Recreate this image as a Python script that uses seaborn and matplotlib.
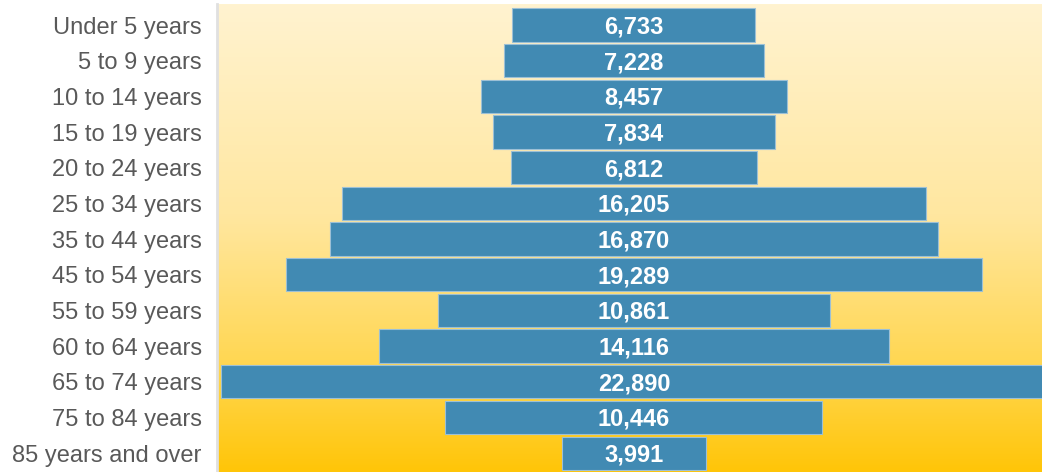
import numpy as np
import pandas as pd
import matplotlib
matplotlib.use("Agg")
import matplotlib.pyplot as plt
from matplotlib.colors import LinearSegmentedColormap
import seaborn as sns

categories = ["Under 5 years", "5 to 9 years", "10 to 14 years", "15 to 19 years",
              "20 to 24 years", "25 to 34 years", "35 to 44 years", "45 to 54 years",
              "55 to 59 years", "60 to 64 years", "65 to 74 years", "75 to 84 years",
              "85 years and over"]
population = [6733, 7228, 8457, 7834, 6812, 16205, 16870, 19289, 10861, 14116, 22890, 10446, 3991]

df = pd.DataFrame({"age": categories, "pop": population})

sns.set_theme(style="white")
plt.rcParams["font.family"] = ["Liberation Sans", "DejaVu Sans"]

fig = plt.figure(figsize=(10.42, 4.72), dpi=100)
ax = fig.add_axes([217 / 1042, 0.0, 1 - 217 / 1042, (472 - 4) / 472])

sns.barplot(data=df, x="pop", y="age", orient="h", color="#418AB3", saturation=1,
            width=0.93, edgecolor="#9CC0D6", linewidth=0.8, ax=ax, zorder=2)

# center bars around zero
for p in ax.patches:
    w = p.get_width()
    p.set_x(-w / 2)

for i, v in enumerate(population):
    ax.text(0, i - 0.02, f"{v:,}", ha="center", va="center_baseline", color="white",
            fontsize=17, fontweight="bold", zorder=3)

xl = (-11554, 11305)
yl = (len(categories) - 1 + 0.53, -0.59)

# gradient background
cmap = LinearSegmentedColormap.from_list(
    "bg", [(0.0, "#FFF3D0"), (0.45, "#FFE7A0"), (0.8, "#FFD54A"), (1.0, "#FFC508")])
grad = np.linspace(0, 1, 256).reshape(-1, 1)
ax.imshow(grad, cmap=cmap, aspect="auto", extent=[xl[0], xl[1], yl[0], yl[1]], zorder=0)
ax.set_xlim(*xl)
ax.set_ylim(*yl)

ax.set_xlabel("")
ax.set_ylabel("")
ax.set_xticks([])
ax.tick_params(axis="y", length=0, pad=11, labelsize=17, labelcolor="#595959")
for s in ["top", "right", "bottom"]:
    ax.spines[s].set_visible(False)
ax.spines["left"].set_color("#E0E0E0")
ax.spines["left"].set_linewidth(2)
ax.spines["left"].set_zorder(4)

fig.savefig("out.png", dpi=100)
